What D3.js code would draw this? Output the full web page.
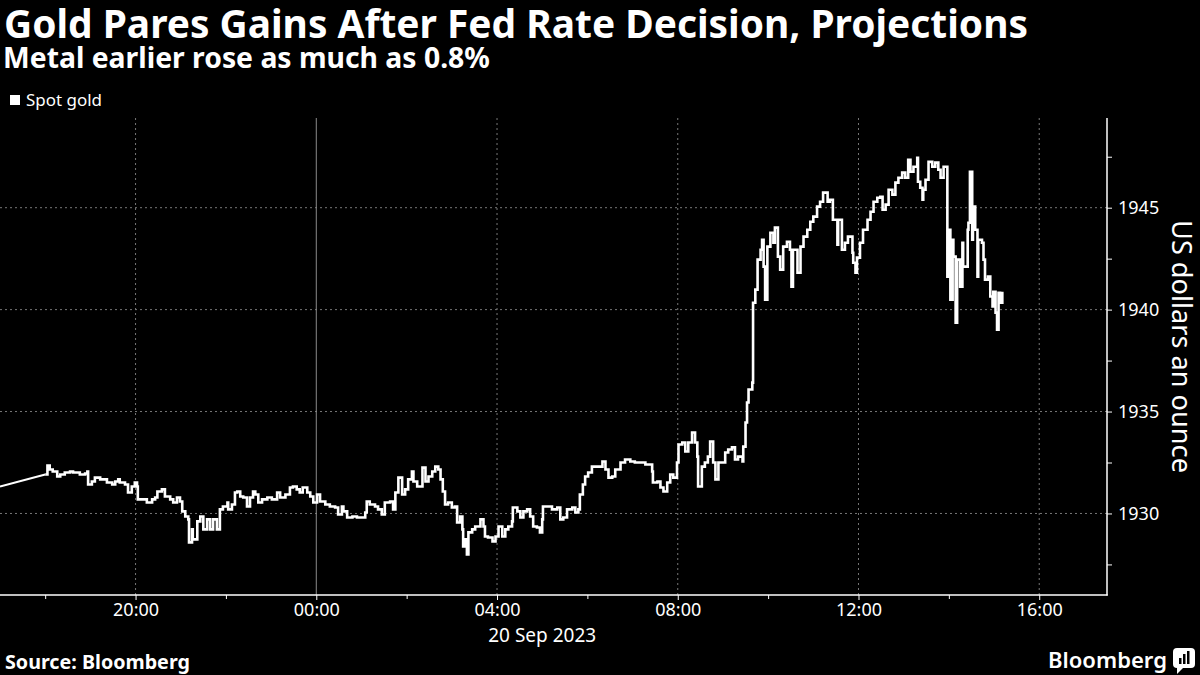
<!DOCTYPE html>
<html><head><meta charset="utf-8">
<script src="https://cdn.jsdelivr.net/npm/d3@7"></script>
<style>html,body{margin:0;padding:0;background:#000;}svg{display:block;}</style>
</head><body>
<svg id="chart" width="1200" height="675"></svg>
<script>
const title = "Gold Pares Gains After Fed Rate Decision, Projections";
const subtitle = "Metal earlier rose as much as 0.8%";
const seriesName = "Spot gold";
const yAxisTitle = "US dollars an ounce";
const sourceText = "Source: Bloomberg";
const brandText = "Bloomberg";
const dateLabel = "20 Sep 2023";
const yTicks = [1930, 1935, 1940, 1945];
const yMinorTicks = [1927.5, 1932.5, 1937.5, 1942.5, 1947.5];
const xTickLabels = ["20:00", "00:00", "04:00", "08:00", "12:00", "16:00"];
const xMinorTickLabels = ["18:00", "22:00", "02:00", "06:00", "10:00", "14:00"];
const dayBoundary = "00:00";

// Spot gold, US$/oz (time ET, 19-20 Sep 2023)
const spotGold = [
["17:00",1931.32],["18:00",1931.91],["18:03",1932.35],["18:06",1932.16],["18:10",1932.06],["18:16",1931.81],
["18:20",1931.91],["18:26",1932.01],["18:33",1932.06],["18:37",1932.01],["18:46",1931.91],["18:53",1931.96],
["18:56",1932.06],["18:57",1931.42],["19:02",1931.57],["19:06",1931.76],["19:13",1931.67],["19:22",1931.52],
["19:29",1931.42],["19:33",1931.57],["19:37",1931.67],["19:39",1931.52],["19:46",1931.42],["19:50",1931.03],
["19:55",1931.32],["19:59",1931.52],["20:02",1931.32],["20:03",1930.69],["20:10",1930.69],["20:15",1930.54],
["20:22",1930.69],["20:26",1930.78],["20:29",1931.08],["20:35",1931.18],["20:39",1930.83],["20:46",1930.69],
["20:50",1930.54],["20:55",1930.78],["20:59",1930.59],["21:02",1930.10],["21:06",1929.85],["21:10",1929.71],
["21:11",1928.58],["21:15",1929.22],["21:16",1928.73],["21:22",1929.61],["21:26",1929.85],["21:30",1929.22],
["21:35",1929.71],["21:39",1929.22],["21:43",1929.71],["21:48",1929.22],["21:52",1930.20],["21:56",1930.34],
["22:02",1930.54],["22:03",1930.20],["22:08",1930.44],["22:12",1931.03],["22:15",1931.08],["22:19",1930.83],
["22:23",1930.78],["22:28",1930.34],["22:32",1930.78],["22:36",1931.08],["22:39",1930.93],["22:43",1930.54],
["22:48",1930.69],["22:55",1930.78],["23:01",1930.69],["23:08",1931.03],["23:12",1930.78],["23:19",1930.93],
["23:25",1931.27],["23:29",1931.32],["23:34",1931.18],["23:38",1931.03],["23:42",1931.27],["23:48",1931.03],
["23:52",1930.83],["23:56",1930.54],["00:01",1930.93],["00:05",1930.59],["00:12",1930.44],["00:18",1930.34],
["00:25",1930.29],["00:29",1929.95],["00:34",1930.34],["00:36",1930.10],["00:41",1929.80],["00:48",1929.85],
["00:54",1929.80],["01:01",1929.80],["01:05",1930.05],["01:07",1930.59],["01:11",1930.44],["01:18",1930.34],
["01:22",1930.20],["01:27",1929.95],["01:31",1930.54],["01:38",1930.59],["01:42",1930.20],["01:45",1931.03],
["01:49",1931.76],["01:54",1930.93],["01:58",1931.18],["02:02",1931.67],["02:07",1932.06],["02:09",1931.57],
["02:14",1931.32],["02:18",1931.32],["02:21",1932.25],["02:25",1931.57],["02:29",1931.81],["02:34",1932.06],
["02:38",1932.30],["02:42",1932.16],["02:45",1931.67],["02:48",1931.08],["02:51",1930.44],["02:55",1930.54],
["03:00",1930.29],["03:04",1930.34],["03:07",1929.56],["03:11",1929.85],["03:14",1929.22],["03:15",1928.38],
["03:18",1928.73],["03:20",1927.99],["03:22",1929.07],["03:27",1929.22],["03:31",1929.36],["03:38",1929.71],
["03:42",1929.36],["03:44",1928.87],["03:48",1928.82],["03:54",1928.63],["03:58",1928.87],["04:02",1929.36],
["04:07",1928.87],["04:11",1929.22],["04:15",1929.36],["04:20",1929.61],["04:21",1930.29],["04:27",1930.10],
["04:31",1929.80],["04:35",1930.10],["04:40",1930.20],["04:44",1929.85],["04:48",1929.36],["04:53",1929.31],
["04:57",1929.07],["05:00",1929.71],["05:01",1930.34],["05:08",1930.34],["05:13",1930.20],["05:20",1930.29],
["05:24",1929.71],["05:28",1929.80],["05:33",1930.20],["05:40",1930.29],["05:44",1930.05],["05:48",1930.20],
["05:50",1930.93],["05:54",1931.42],["05:57",1931.81],["06:01",1932.01],["06:06",1932.30],["06:13",1932.30],
["06:20",1932.55],["06:24",1932.16],["06:28",1931.76],["06:33",1931.81],["06:37",1932.16],["06:44",1932.50],
["06:50",1932.65],["06:57",1932.55],["07:03",1932.50],["07:10",1932.50],["07:17",1932.40],["07:21",1932.40],
["07:26",1932.06],["07:27",1931.52],["07:33",1931.57],["07:37",1931.27],["07:41",1931.08],["07:46",1931.52],
["07:50",1931.91],["07:54",1931.76],["07:59",1932.50],["08:01",1933.38],["08:06",1933.48],["08:10",1933.04],
["08:14",1933.48],["08:19",1933.97],["08:23",1933.48],["08:26",1932.79],["08:27",1931.32],["08:32",1932.30],
["08:36",1932.50],["08:40",1932.79],["08:43",1933.53],["08:47",1932.50],["08:50",1931.67],["08:54",1932.50],
["08:59",1932.50],["09:03",1932.99],["09:07",1933.14],["09:12",1933.24],["09:16",1932.65],["09:20",1932.79],
["09:26",1932.55],["09:27",1933.28],["09:30",1934.46],["09:32",1935.44],["09:34",1936.08],["09:39",1936.42],
["09:40",1940.34],["09:43",1940.98],["09:46",1942.45],["09:50",1942.94],["09:52",1943.43],["09:54",1942.11],
["09:56",1940.49],["09:59",1943.09],["10:03",1943.77],["10:07",1943.28],["10:09",1944.02],["10:13",1942.60],
["10:16",1941.96],["10:20",1943.09],["10:25",1943.33],["10:29",1942.94],["10:31",1941.13],["10:33",1942.94],
["10:39",1941.81],["10:43",1943.09],["10:47",1943.58],["10:52",1943.92],["10:56",1944.31],["11:00",1944.56],
["11:05",1945.05],["11:09",1945.29],["11:13",1945.74],["11:19",1945.29],["11:22",1945.39],["11:26",1944.41],
["11:32",1943.19],["11:33",1944.41],["11:36",1944.41],["11:38",1942.94],["11:42",1943.28],["11:46",1943.58],
["11:52",1942.79],["11:53",1942.30],["11:56",1941.81],["11:58",1942.55],["12:02",1943.28],["12:06",1943.92],
["12:12",1944.41],["12:16",1944.80],["12:20",1945.29],["12:25",1945.49],["12:29",1945.54],["12:32",1944.90],
["12:36",1945.15],["12:40",1945.88],["12:45",1945.64],["12:49",1946.23],["12:53",1946.47],["12:58",1946.72],
["13:02",1946.47],["13:06",1947.35],["13:09",1946.76],["13:13",1947.01],["13:18",1947.45],["13:19",1946.27],
["13:22",1945.98],["13:25",1945.39],["13:26",1945.88],["13:29",1946.37],["13:33",1947.25],["13:38",1947.01],
["13:42",1947.21],["13:46",1946.86],["13:49",1946.47],["13:53",1947.01],["13:57",1947.01],["13:58",1941.62],
["13:59",1943.92],["14:02",1940.49],["14:05",1943.43],["14:06",1942.60],["14:09",1939.36],["14:11",1942.45],
["14:15",1941.13],["14:18",1943.28],["14:19",1942.11],["14:25",1943.92],["14:26",1944.26],["14:28",1946.76],
["14:31",1943.43],["14:32",1945.05],["14:35",1943.92],["14:38",1941.62],["14:39",1943.43],["14:44",1943.28],
["14:46",1942.45],["14:48",1941.47],["14:52",1941.62],["14:55",1940.64],["14:58",1940.15],["14:59",1940.88],
["15:02",1939.85],["15:04",1939.02],["15:06",1940.83],["15:08",1940.34],["15:11",1940.88]
];

function toDate(hm) {
  const [h, m] = hm.split(":").map(Number);
  return h >= 17 ? new Date(2023, 8, 19, h, m) : new Date(2023, 8, 20, h, m);
}

const W = 1200, H = 675;
const plot = {left: 0, right: 1107, top: 118, bottom: 595};
const svg = d3.select("#chart");
svg.append("rect").attr("width", W).attr("height", H).attr("fill", "#000");

const x = d3.scaleTime()
  .domain([new Date(2023, 8, 19, 17, 0), new Date(2023, 8, 20, 17, 30)])
  .range([plot.left, plot.right]);
const y = d3.scaleLinear().domain([1926, 1949.4]).range([plot.bottom, plot.top]);

const data = spotGold.map(([t, v]) => ({t: toDate(t), v}));

const fontMain = "'Noto Sans', 'DejaVu Sans', sans-serif";

function fit(sel, target) {
  const w = sel.node().getComputedTextLength();
  const fs = parseFloat(sel.attr("font-size"));
  sel.attr("font-size", (fs * target / w).toFixed(2));
}

// Title & subtitle
const t1 = svg.append("text").attr("x", 4).attr("y", 38).attr("fill", "#fff")
  .attr("font-family", fontMain).attr("font-weight", 700).attr("font-size", 36).text(title);
fit(t1, 1024);
const t2 = svg.append("text").attr("x", 3).attr("y", 68).attr("fill", "#fff")
  .attr("font-family", fontMain).attr("font-weight", 700).attr("font-size", 22).text(subtitle);
fit(t2, 487);

// Legend
svg.append("rect").attr("x", 10).attr("y", 95).attr("width", 10).attr("height", 10).attr("fill", "#fff");
const lg = svg.append("text").attr("x", 26).attr("y", 106).attr("fill", "#fff")
  .attr("font-family", fontMain).attr("font-size", 15).text(seriesName);
fit(lg, 76);

// Gridlines
const grid = svg.append("g");
grid.selectAll("line.h").data(yTicks).join("line")
  .attr("x1", plot.left).attr("x2", plot.right)
  .attr("y1", d => y(d)).attr("y2", d => y(d))
  .attr("stroke", "#777").attr("stroke-width", 1).attr("stroke-dasharray", "2,3");
grid.selectAll("line.v").data(xTickLabels).join("line")
  .attr("x1", d => x(toDate(d))).attr("x2", d => x(toDate(d)))
  .attr("y1", plot.top).attr("y2", plot.bottom)
  .attr("stroke", d => d === dayBoundary ? "#8a8a8a" : "#777")
  .attr("stroke-width", 1)
  .attr("stroke-dasharray", d => d === dayBoundary ? null : "2,3");

// Clip
svg.append("clipPath").attr("id", "clip").append("rect")
  .attr("x", plot.left).attr("y", plot.top - 5)
  .attr("width", plot.right - plot.left).attr("height", plot.bottom - plot.top + 5);

const lineLin = d3.line().x(d => x(d.t)).y(d => y(d.v));
const lineStep = d3.line().x(d => x(d.t)).y(d => y(d.v)).curve(d3.curveStepAfter);
const lg2 = svg.append("g").attr("clip-path", "url(#clip)");
lg2.append("path").datum(data.slice(0, 2)).attr("d", lineLin)
  .attr("fill", "none").attr("stroke", "#fff").attr("stroke-width", 2);
lg2.append("path").datum(data.slice(1)).attr("d", lineStep)
  .attr("fill", "none").attr("stroke", "#fff").attr("stroke-width", 2.6)
  .attr("stroke-linejoin", "miter");

// Axes
const axisFont = 18;
const yAx = svg.append("g").attr("transform", `translate(${plot.right},0)`)
  .call(d3.axisRight(y).tickValues(yTicks).tickSize(5).tickPadding(6).tickFormat(d3.format("d")));
const yAxMinor = svg.append("g").attr("transform", `translate(${plot.right},0)`)
  .call(d3.axisRight(y).tickValues(yMinorTicks).tickSize(5).tickFormat(""));
const xAx = svg.append("g").attr("transform", `translate(0,${plot.bottom})`)
  .call(d3.axisBottom(x).tickValues(xTickLabels.map(toDate)).tickSize(5).tickPadding(3)
    .tickFormat(d3.timeFormat("%H:%M")));
const xAxMinor = svg.append("g").attr("transform", `translate(0,${plot.bottom})`)
  .call(d3.axisBottom(x).tickValues(xMinorTickLabels.map(toDate)).tickSize(4).tickFormat(""));
[yAx, yAxMinor, xAx, xAxMinor].forEach(g => {
  g.select(".domain").remove();
  g.selectAll(".tick line").attr("stroke", "#fff").attr("stroke-width", 1);
  g.selectAll("text").attr("fill", "#fff").attr("font-family", fontMain).attr("font-size", axisFont);
});

// Axis lines
svg.append("line").attr("x1", plot.right).attr("x2", plot.right)
  .attr("y1", plot.top).attr("y2", plot.bottom + 0.5).attr("stroke", "#fff").attr("stroke-width", 1.5);
svg.append("line").attr("x1", plot.left).attr("x2", plot.right + 0.75)
  .attr("y1", plot.bottom).attr("y2", plot.bottom).attr("stroke", "#fff").attr("stroke-width", 1.5);

// Date label
svg.append("text").attr("x", x(new Date(2023, 8, 20, 5, 0))).attr("y", 642)
  .attr("text-anchor", "middle").attr("fill", "#fff")
  .attr("font-family", fontMain).attr("font-size", 19).text(dateLabel);

// Y axis title
const yt = svg.append("text")
  .attr("transform", `translate(1172,${(220 + 473) / 2}) rotate(90)`)
  .attr("text-anchor", "middle").attr("fill", "#fff")
  .attr("font-family", fontMain).attr("font-size", 21).text(yAxisTitle);
fit(yt, 253);

// Footer
const src = svg.append("text").attr("x", 5).attr("y", 669).attr("fill", "#fff")
  .attr("font-family", fontMain).attr("font-weight", 700).attr("font-size", 16).text(sourceText);
fit(src, 185);
const br = svg.append("text").attr("x", 1167).attr("y", 668).attr("text-anchor", "end").attr("fill", "#fff")
  .attr("font-family", fontMain).attr("font-weight", 600).attr("font-size", 22).text(brandText);
fit(br, 119);
const ic = svg.append("g").attr("transform", "translate(1173,648)");
ic.append("rect").attr("width", 22).attr("height", 20).attr("rx", 4).attr("fill", "#fff");
ic.append("path").attr("d", "M4,20 L4,26 L10,20 Z").attr("fill", "#fff");
[[6, 10], [10, 6], [14, 3]].forEach(([bx, by]) =>
  ic.append("rect").attr("x", bx).attr("y", by).attr("width", 2.5).attr("height", 16 - by).attr("fill", "#000"));
</script>
</body></html>
